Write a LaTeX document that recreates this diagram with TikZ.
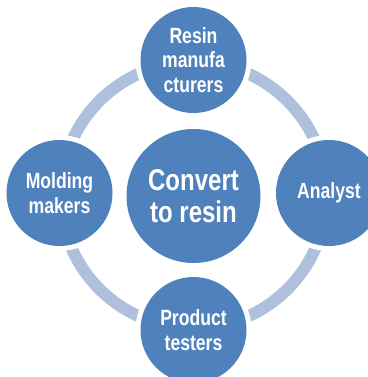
\documentclass[tikz,border=0pt]{standalone}
\usepackage{fontspec}
\setmainfont{Liberation Sans}[BoldFeatures={FakeStretch=0.8}]
\definecolor{bubble}{HTML}{4F81BD}
\definecolor{ringc}{HTML}{AFC0DC}
\begin{document}
\begin{tikzpicture}[x=1pt,y=-1pt,
  bub/.style={circle,fill=bubble,text=white,inner sep=0pt,minimum size=106pt,align=center,font=\bfseries\fontsize{22}{24.5}\selectfont},
  halo/.style={circle,fill=white,inner sep=0pt,minimum size=116pt}]
\useasboundingbox (0,0) rectangle (367,377);
\draw[ringc,line width=12pt] (193.5,195) circle (133);
\foreach \n/\p in {ht/{193.5,60},hl/{59.5,193},hr/{329,193},hb/{193.5,330}}
  \node[halo] (\n) at (\p) {};
\node[bub,minimum size=134pt,font=\bfseries\fontsize{30}{32}\selectfont] (c) at (193.5,196) {Convert\\to resin};
\node[bub] (t) at (193.5,60) {Resin\\manufa\\cturers};
\node[bub] (l) at (59.5,193) {Molding\\makers};
\node[bub] (r) at (329,193) {Analyst};
\node[bub] (b) at (193.5,330) {Product\\testers};
\end{tikzpicture}
\end{document}
